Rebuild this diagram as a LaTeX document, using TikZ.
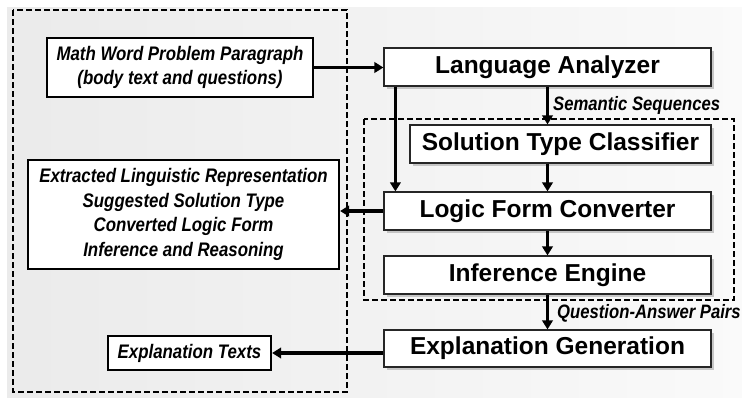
\documentclass[tikz,border=0pt]{standalone}
\usepackage{fontspec}
\setmainfont{Liberation Sans}
\newfontfamily\narrowsans[FakeStretch=0.86]{Liberation Sans}
\usetikzlibrary{arrows.meta,shadows,calc}
\begin{document}
\begin{tikzpicture}[x=1pt,y=-1pt,
  mainbox/.style={draw=black!85,line width=1.2pt,fill=white,minimum width=327pt,minimum height=38pt,inner sep=0pt,
    font=\fontsize{24.5}{29}\selectfont\bfseries,
    drop shadow={shadow xshift=2.5pt,shadow yshift=-2.5pt,fill=black!45,opacity=.45}},
  leftbox/.style={draw=black,line width=2.2pt,fill=white,inner sep=0pt,align=center,
    font=\narrowsans\fontsize{19.6}{24.5}\selectfont\bfseries\itshape},
  lbl/.style={inner sep=0pt,anchor=west,font=\narrowsans\fontsize{19.4}{22}\selectfont\bfseries\itshape},
  arr/.style={line width=3.2pt,-{Triangle[length=9pt,width=10.5pt]}},
  dbox/.style={draw=black,line width=2pt,dash pattern=on 6pt off 3pt}]
\useasboundingbox (0,0) rectangle (742,397);
\fill[white] (0,0) rectangle (742,397);
\shade[left color=black!8,right color=black!2] (7,7) rectangle (742,397);
% dashed groups
\draw[dbox] (13,10) rectangle (347,392);
\draw[dbox] (364,119) rectangle (734,300);
% main pipeline
\node[mainbox] (la) at (547.5,67) {Language Analyzer};
\node[mainbox,minimum width=301pt] (stc) at (560.5,144) {Solution Type Classifier};
\node[mainbox] (lfc) at (547.5,211) {Logic Form Converter};
\node[mainbox] (ie) at (547.5,275) {Inference Engine};
\node[mainbox,minimum height=37pt] (eg) at (547.5,348.5) {Explanation Generation};
% left boxes
\node[leftbox,minimum width=266pt,minimum height=59pt] (mwp) at (180,67.5) {Math Word Problem Paragraph\\(body text and questions)};
\node[leftbox,minimum width=311pt,minimum height=109pt] (elr) at (183.5,214.5) {Extracted Linguistic Representation\\Suggested Solution Type\\Converted Logic Form\\Inference and Reasoning};
\node[leftbox,minimum width=163pt,minimum height=34pt] (et) at (189.5,353) {Explanation Texts};
% labels
\node[lbl] (ss) at (553,105) {Semantic Sequences};
\node[lbl] (qa) at (557,313) {Question-Answer Pairs};
% connectors
\draw[arr] (mwp.east) -- (mwp.east -| la.west);
\draw[arr] (la.south) -- (la.south |- stc.north);
\draw[arr] ([xshift=12pt]la.south west) -- ([xshift=12pt]lfc.north west);
\draw[arr] (la.south |- stc.south) -- (lfc.north);
\draw[arr] (lfc.south) -- (ie.north);
\draw[arr] (ie.south) -- (eg.north);
\draw[arr] (lfc.west) -- (lfc.west -| elr.east);
\draw[arr] (et.east -| eg.west) -- (et.east);
\end{tikzpicture}
\end{document}
